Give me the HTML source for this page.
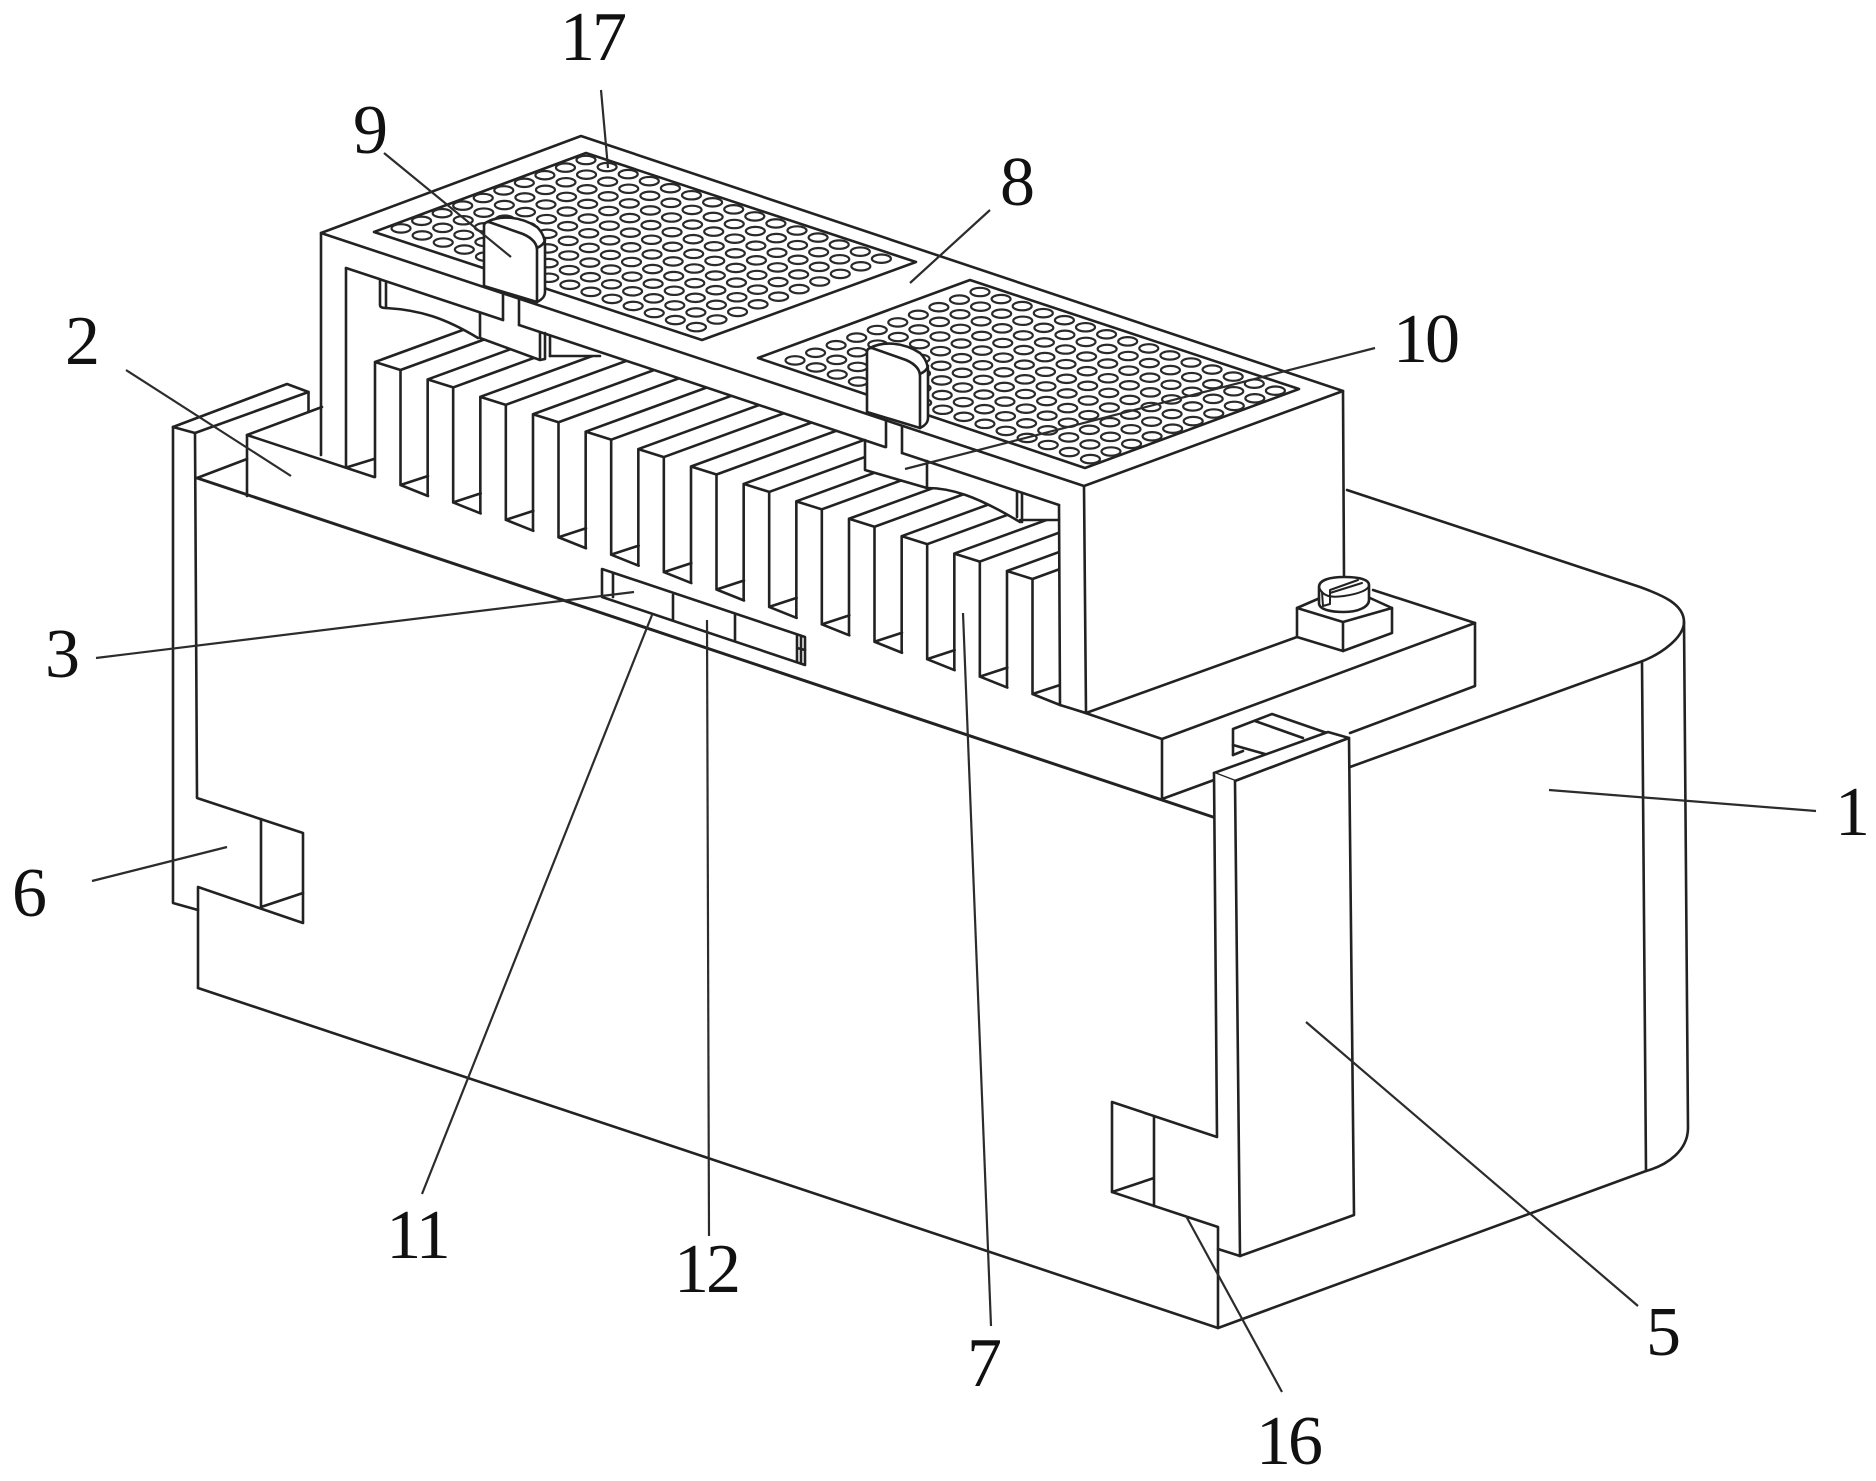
<!DOCTYPE html>
<html>
<head>
<meta charset="utf-8">
<style>
html,body{margin:0;padding:0;background:#fff;width:1876px;height:1481px;overflow:hidden}
svg{display:block}
.l{fill:none;stroke:#222;stroke-width:2.6;stroke-linejoin:round;stroke-linecap:round}
.w{fill:#fff;stroke:#222;stroke-width:2.6;stroke-linejoin:round}
.ld{fill:none;stroke:#2c2c2c;stroke-width:2.2}
text{font-family:"Liberation Serif",serif;font-size:70px;fill:#111;text-anchor:middle;letter-spacing:-3px}
</style>
</head>
<body>
<svg width="1876" height="1481" viewBox="0 0 1876 1481" xmlns="http://www.w3.org/2000/svg">
<defs>
  <g id="fin" class="l">
    <path d="M375,477V362L400.5,370V485M375,362l170,-62M400.5,370l170,-62M400.5,485L428,476M400.5,485L428,496"/>
  </g>
  <g id="row" fill="none" stroke="#2a2a2a" stroke-width="2.2">
    <ellipse cx="0" cy="0" rx="9.5" ry="4.2"/><ellipse cx="21.1" cy="7.05" rx="9.5" ry="4.2"/><ellipse cx="42.2" cy="14.1" rx="9.5" ry="4.2"/><ellipse cx="63.3" cy="21.15" rx="9.5" ry="4.2"/><ellipse cx="84.4" cy="28.2" rx="9.5" ry="4.2"/><ellipse cx="105.5" cy="35.25" rx="9.5" ry="4.2"/><ellipse cx="126.6" cy="42.3" rx="9.5" ry="4.2"/><ellipse cx="147.7" cy="49.35" rx="9.5" ry="4.2"/><ellipse cx="168.8" cy="56.4" rx="9.5" ry="4.2"/><ellipse cx="189.9" cy="63.45" rx="9.5" ry="4.2"/><ellipse cx="211" cy="70.5" rx="9.5" ry="4.2"/><ellipse cx="232.1" cy="77.55" rx="9.5" ry="4.2"/><ellipse cx="253.2" cy="84.6" rx="9.5" ry="4.2"/><ellipse cx="274.3" cy="91.65" rx="9.5" ry="4.2"/><ellipse cx="295.4" cy="98.7" rx="9.5" ry="4.2"/>
  </g>
  <g id="holes">
    <use href="#row"/>
    <use href="#row" transform="translate(-20.55,7.6)"/>
    <use href="#row" transform="translate(-41.1,15.2)"/>
    <use href="#row" transform="translate(-61.65,22.8)"/>
    <use href="#row" transform="translate(-82.2,30.4)"/>
    <use href="#row" transform="translate(-102.75,38)"/>
    <use href="#row" transform="translate(-123.3,45.6)"/>
    <use href="#row" transform="translate(-143.85,53.2)"/>
    <use href="#row" transform="translate(-164.4,60.8)"/>
    <use href="#row" transform="translate(-184.95,68.4)"/>
  </g>
  <g id="clamp">
    <path class="w" d="M487,222C500,215 520,216 537,227C542,232 545,238 545,245V292C545,296 543,299 537,302Z"/>
    <path class="w" d="M484,286V226C484,223 486,222 489,222L523,234C532,238 537,243 537,250V302Z"/>
    <path class="l" d="M537,248C541,246 544,244 545,240"/>
  </g>
</defs>

<!-- main body -->
<g class="l">
  <path d="M197,478L1213,817" style="stroke-width:3"/>
  <path d="M198,988L1218,1328L1646,1171C1668,1165 1688,1150 1688,1128L1684,622C1684,604 1662,595 1640,587L1347,490"/>
  <path d="M1350,767L1640,662C1662,654 1684,637 1684,622"/>
  <path d="M1642,662L1646,1171"/>
</g>

<!-- left rail (6) -->
<g class="l">
  <path d="M173,427L287,384L308.5,392V412"/>
  <path d="M173,427L195,433L308.5,392"/>
  <path d="M173,427V903L198,910"/>
  <path d="M195,433L197,798L303,833V923L198,887V988"/>
  <path d="M261,819V907L303,893"/>
  <path d="M197,478L247,459"/>
  <path d="M247,435L322,407"/>
</g>

<!-- base plate (2) -->
<g class="l">
  <path d="M247,496V435L374,477"/>
  <path d="M348,467L374,459"/>
  <path d="M321,233V455M346,268V467"/>
  <path d="M1059,704L1162,739V799"/>
  <path d="M1162,739L1475,623V686L1350,733"/>
  <path d="M1162,799L1214,780"/>
  <path d="M1373,590L1475,623"/>
</g>

<!-- fins (7) -->
<use href="#fin"/>
<use href="#fin" transform="translate(52.67,17.42)"/>
<use href="#fin" transform="translate(105.33,34.83)"/>
<use href="#fin" transform="translate(158,52.25)"/>
<use href="#fin" transform="translate(210.67,69.67)"/>
<use href="#fin" transform="translate(263.33,87.08)"/>
<use href="#fin" transform="translate(316,104.5)"/>
<use href="#fin" transform="translate(368.67,121.92)"/>
<use href="#fin" transform="translate(421.33,139.33)"/>
<use href="#fin" transform="translate(474,156.75)"/>
<use href="#fin" transform="translate(526.67,174.17)"/>
<use href="#fin" transform="translate(579.33,191.58)"/>
<use href="#fin" transform="translate(632,209)"/>

<!-- mask above the fins and the box faces as one white area -->
<path fill="#fff" d="M347,268L380,280V307L386,308C420,310 445,318 478,338L540,360H545L550,356L600,355L621,359L865,440V470L927,488C950,488 975,495 1020,522L1060,520V705L1086,713L1297,637L1344,577V391L581,136L321,233Z"/>

<!-- bar supports -->
<g class="l">
  <path d="M380,280V305C380,307 382,308 386,308C420,310 445,318 478,338"/>
  <path d="M386,283V308"/>
  <path d="M927,488C950,488 975,495 1020,522"/>
  <path d="M1017,492V517M1022,494V522M1020,520H1059"/>
  <path d="M550,356H600"/>
  <path d="M346,268L503,320M519,325L885,447M902,453L1059,505"/>
  <path d="M503,293V320M519,300V325M480,313V338L540,360V333M545,333V359L540,360M550,337V356"/>
  <path d="M886,419V447M902,426V453M865,440V470L927,488V461"/>
  <path d="M1059,505L1060,705L1086,713L1084,486"/>
  <path d="M1343,391L1344,577"/>
  <path d="M1086,713L1297,637"/>
</g>

<!-- top surface (8) -->
<path class="w" d="M321,233L581,136L1343,391L1084,486Z"/>
<path class="l" d="M374,232L586,153L916,262L702,340Z"/>
<path class="l" d="M758,358L970,280L1299,389L1085,468Z"/>
<use href="#holes" transform="translate(586,160)"/>
<use href="#holes" transform="translate(980,292)"/>

<!-- clamps (9) -->
<use href="#clamp"/>
<use href="#clamp" transform="translate(383,126)"/>

<!-- slot (3, 11, 12) -->
<g class="l">
  <path d="M602,569L805,637V665L602,597Z"/>
  <path d="M613,573V597M673,595V620M735,615V640M797,635V662M801,636V663M797,648L805,650"/>
</g>

<!-- plate 5 -->
<g class="l">
  <path d="M1233,755V729L1272,714L1327,733"/>
  <path d="M1255,721L1303,738M1233,745L1265,754M1233,755L1243,751"/>
</g>
<path class="w" d="M1214,773L1328,732L1349,738L1235,781Z"/>
<path fill="#fff" d="M1214,773L1217,1137L1154,1116L1154,1206L1218,1227L1218,1249L1240,1256L1235,781Z"/>
<path class="w" d="M1235,781L1349,738L1354,1215L1240,1256Z"/>
<g class="l">
  <path d="M1214,773L1217,1137L1112,1102V1192L1218,1227V1328"/>
  <path d="M1218,1249L1240,1256"/>
  <path d="M1154,1116V1206M1112,1192L1154,1178"/>
</g>

<!-- screw -->
<g>
  <path class="w" d="M1297,608L1320,598H1370L1392,608V633L1343,651L1297,637Z"/>
  <path class="l" d="M1297,608L1343,622L1392,608M1343,622V651"/>
  <path class="w" d="M1319,587V603C1319,610 1332,612 1344,612C1358,612 1369,607 1369,600V585C1369,579 1358,577 1344,577C1330,577 1319,580 1319,587Z"/>
  <path class="l" d="M1319,587C1322,596 1330,598 1344,596C1358,594 1369,590 1369,585" style="stroke-width:2"/>
  <path class="l" d="M1330,590L1358,580M1330,593L1362,583M1322,592L1323,606L1330,604V590" style="stroke-width:2"/>
</g>

<!-- leader lines -->
<g class="ld">
  <path d="M601,90L608,168"/>
  <path d="M384,153L511,257"/>
  <path d="M990,210L910,283"/>
  <path d="M1375,348L905,469"/>
  <path d="M126,370L291,476"/>
  <path d="M96,658L634,592"/>
  <path d="M1816,811L1549,790"/>
  <path d="M92,881L227,847"/>
  <path d="M422,1194L652,615"/>
  <path d="M709,1236L707,620"/>
  <path d="M991,1326L963,613"/>
  <path d="M1638,1306L1306,1022"/>
  <path d="M1282,1392L1186,1216"/>
</g>

<!-- labels -->
<text x="592" y="60">17</text>
<text x="369" y="153">9</text>
<text x="1016" y="205">8</text>
<text x="1425" y="362">10</text>
<text x="81" y="364">2</text>
<text x="61" y="677">3</text>
<text x="1851" y="835">1</text>
<text x="28" y="916">6</text>
<text x="417" y="1258">11</text>
<text x="706" y="1292">12</text>
<text x="983" y="1386">7</text>
<text x="1662" y="1355">5</text>
<text x="1288" y="1464">16</text>
</svg>
</body>
</html>
